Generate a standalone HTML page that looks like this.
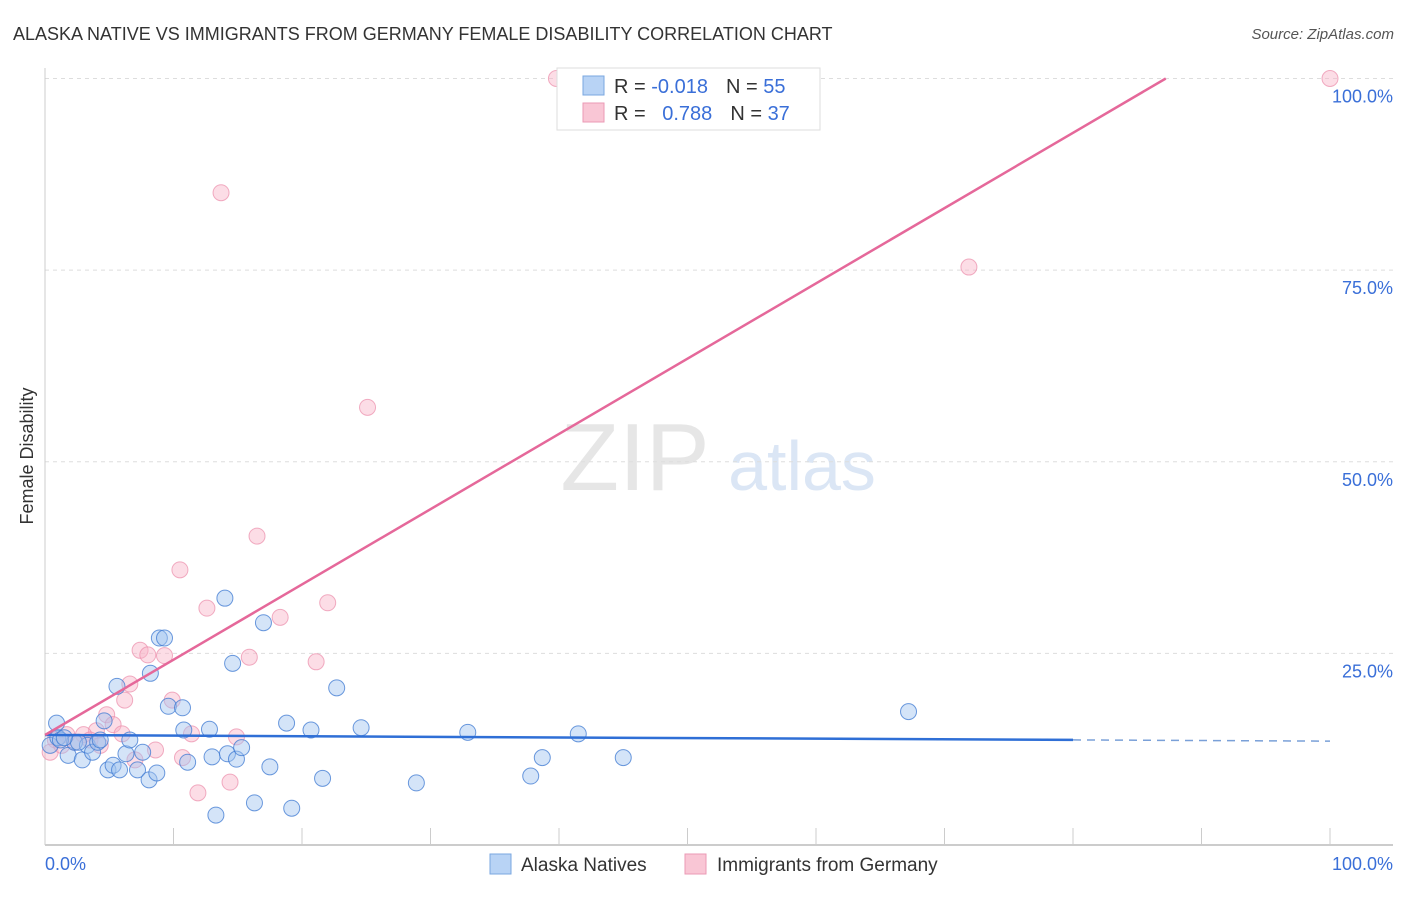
<!DOCTYPE html>
<html><head><meta charset="utf-8"><style>
body{margin:0;background:#fff;font-family:"Liberation Sans",sans-serif;}
svg text{font-family:"Liberation Sans",sans-serif;}
</style></head><body>
<svg id="chart" width="1406" height="892" xmlns="http://www.w3.org/2000/svg">
<text x="13" y="40" font-size="18" fill="#333">ALASKA NATIVE VS IMMIGRANTS FROM GERMANY FEMALE DISABILITY CORRELATION CHART</text>
<text x="1394" y="39" font-size="15" fill="#555" font-style="italic" text-anchor="end">Source: ZipAtlas.com</text>
<text transform="translate(33,456) rotate(-90)" font-size="18" fill="#333" text-anchor="middle">Female Disability</text>
<g>
<text x="635" y="490" font-size="96" fill="#e6e6e6" font-family="Liberation Serif" text-anchor="middle">ZIP</text>
<text x="802" y="490" font-size="70" fill="#dbe6f5" text-anchor="middle">atlas</text>
</g>
<g id="grid"></g><g id="axes"></g><g id="pts"></g><g id="lines"></g>
<g>
<rect x="557" y="68" width="263" height="62" fill="#fff" stroke="#ddd"/>
<rect x="583" y="76" width="21" height="19" fill="#b8d3f5" stroke="#7aa7e0"/>
<rect x="583" y="103" width="21" height="19" fill="#f9c6d5" stroke="#eb9ab5"/>
<text x="614" y="93" font-size="20" fill="#333">R = <tspan fill="#3a6fd8">-0.018</tspan><tspan dx="18">N = </tspan><tspan fill="#3a6fd8">55</tspan></text>
<text x="614" y="120" font-size="20" fill="#333">R = <tspan fill="#3a6fd8" dx="11">0.788</tspan><tspan dx="18">N = </tspan><tspan fill="#3a6fd8">37</tspan></text>
</g>
<g>
<rect x="490" y="854" width="21" height="20" fill="#b8d3f5" stroke="#7aa7e0"/>
<text x="521" y="871" font-size="19" fill="#333">Alaska Natives</text>
<rect x="685" y="854" width="21" height="20" fill="#f9c6d5" stroke="#eb9ab5"/>
<text x="717" y="871" font-size="19" fill="#333">Immigrants from Germany</text>
</g>
</svg>
<script>
const blueX=[0.9,0.4,1.0,1.8,2.3,2.9,3.3,3.7,4.1,4.6,4.9,5.3,5.6,5.8,6.3,6.6,7.2,7.6,8.1,8.2,8.7,8.9,9.3,9.6,10.7,10.8,11.1,12.8,13.0,13.3,14.0,14.2,14.6,14.9,15.3,16.3,17.0,17.5,18.8,19.2,20.7,21.6,22.7,24.6,28.9,32.9,37.8,38.7,41.5,45.0,67.2,1.2,2.6,4.3,1.5];
const blueY=[15.9,13.0,14.0,11.7,13.4,11.1,13.0,12.1,13.4,16.2,9.8,10.4,20.7,9.8,11.9,13.7,9.8,12.1,8.5,22.4,9.4,27.0,27.0,18.1,17.9,15.0,10.8,15.1,11.5,3.9,32.2,11.9,23.7,11.2,12.7,5.5,29.0,10.2,15.9,4.8,15.0,8.7,20.5,15.3,8.1,14.7,9.0,11.4,14.5,11.4,17.4,13.7,13.4,13.7,14.0];
const pinkX=[39.8,100,13.7,71.9,25.1,16.5,10.5,12.6,18.3,22.0,7.4,9.3,15.9,21.1,6.6,9.9,4.8,5.3,6.0,4.0,3.0,1.7,0.8,0.4,10.7,8.6,11.9,14.4,14.9,11.4,1.3,2.3,3.5,6.2,8.0,4.3,7.0];
const pinkY=[100,100,85.1,75.4,57.1,40.3,35.9,30.9,29.7,31.6,25.4,24.7,24.5,23.9,21.0,18.9,17.0,15.7,14.5,14.9,14.4,14.4,13.7,12.1,11.4,12.4,6.8,8.2,14.1,14.5,13.0,13.4,13.7,18.9,24.8,13.0,11.1];
const yTicks=[25,50,75,100];
const yTickLabels=["25.0%","50.0%","75.0%","100.0%"];
const blueTrend=[14.35,13.55];
const pinkTrend=[14.35,0.982];
const NS='http://www.w3.org/2000/svg';
const sx=v=>45+v*12.85, sy=v=>845-v*7.665;
function mk(t,a,p){const e=document.createElementNS(NS,t);for(const k in a)e.setAttribute(k,a[k]);document.getElementById(p).appendChild(e);return e;}
yTicks.forEach((t,i)=>{
 const g=mk('line',{x1:45,x2:1393,y1:sy(t),y2:sy(t),stroke:'#ddd','stroke-dasharray':'4,4'},'grid');
 
 
 const l=mk('text',{x:1393,y:sy(t)+24,'font-size':18,fill:'#3a6fd8','text-anchor':'end'},'axes');
 l.textContent=yTickLabels[i];
 
 
});
const ax=mk('line',{x1:45,x2:1393,y1:845,y2:845,stroke:'#bbb','stroke-width':1.5},'axes');


const ay=mk('line',{x1:45,x2:45,y1:68,y2:845,stroke:'#ccc'},'axes');


for(let i=0;i<=10;i++){const t=mk('line',{x1:sx(i*10),x2:sx(i*10),y1:828,y2:845,stroke:'#ccc'},'axes');
 
 }
const x0=mk('text',{x:45,y:870,'font-size':18,fill:'#3a6fd8'},'axes');x0.textContent='0.0%';


const x1=mk('text',{x:1393,y:870,'font-size':18,fill:'#3a6fd8','text-anchor':'end'},'axes');x1.textContent='100.0%';


pinkX.forEach((x,i)=>{const c=mk('circle',{cx:sx(x),cy:sy(pinkY[i]),r:8,fill:'rgba(248,180,200,0.45)',stroke:'rgba(235,140,170,0.7)'},'pts');
 
 });
blueX.forEach((x,i)=>{const c=mk('circle',{cx:sx(x),cy:sy(blueY[i]),r:8,fill:'rgba(160,195,240,0.45)',stroke:'rgba(60,120,210,0.75)'},'pts');
 
 });
const bt=x=>blueTrend[0]+(blueTrend[1]-blueTrend[0])*x/100;
const b1=mk('line',{x1:sx(0),y1:sy(bt(0)),x2:sx(80),y2:sy(bt(80)),stroke:'#2f6fd6','stroke-width':2.5},'lines');


const b2=mk('line',{x1:sx(80),y1:sy(bt(80)),x2:sx(100),y2:sy(bt(100)),stroke:'#7aa0d8','stroke-width':1.5,'stroke-dasharray':'8,6'},'lines');


const pEnd=(100-pinkTrend[0])/pinkTrend[1];
const p1=mk('line',{x1:sx(0),y1:sy(pinkTrend[0]),x2:sx(pEnd),y2:sy(100),stroke:'#e5689a','stroke-width':2.5},'lines');


</script>
</body></html>
